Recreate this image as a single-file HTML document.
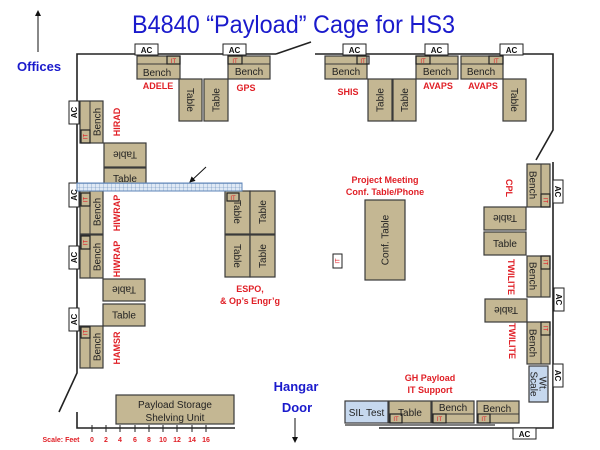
<!DOCTYPE html>
<html><head><meta charset="utf-8"><style>
html,body{margin:0;padding:0;background:#fff}
svg{display:block}
.f{fill:#c4b793;stroke:#3a3a3a;stroke-width:1.2}
.b{fill:#c6d8ee;stroke:#3a3a3a;stroke-width:1.2}
.it{fill:none;stroke:#222;stroke-width:1.2}
.ac{fill:#fff;stroke:#222;stroke-width:1}
text{font-family:"Liberation Sans",sans-serif}
.t{font-size:10px;fill:#222;text-anchor:middle}
.r{font-size:9px;fill:#e01f26;font-weight:bold;text-anchor:middle}
.i{font-size:6px;fill:#e01f26;text-anchor:middle}
.a{font-size:8px;fill:#111;font-weight:bold;text-anchor:middle}
.w{stroke:#222;stroke-width:1.6;fill:none}
</style></head><body>
<svg width="600" height="450" viewBox="0 0 600 450" xmlns="http://www.w3.org/2000/svg">
<defs>
<pattern id="g" width="4" height="4" patternUnits="userSpaceOnUse"><rect width="4" height="4" fill="#dfe9f5"/><path d="M4 0V4M0 4H4" stroke="#5f86b8" stroke-width="0.6"/></pattern>
<marker id="ah" markerWidth="6" markerHeight="6" refX="5" refY="3" orient="auto"><path d="M0,0L6,3L0,6z" fill="#111"/></marker>
</defs>
<!-- title -->
<text x="132" y="33" font-size="25" fill="#1a1acc" textLength="323" lengthAdjust="spacingAndGlyphs">B4840 “Payload” Cage for HS3</text>
<line x1="38" y1="52" x2="38" y2="11" stroke="#111" stroke-width="1" marker-end="url(#ah)"/>
<text x="17" y="71" font-size="13" font-weight="bold" fill="#1a1acc">Offices</text>
<!-- walls -->
<path class="w" d="M276 54H77V373L59 412"/>
<path class="w" d="M276 54L311 42"/>
<path class="w" d="M315 54H553V130L536 160"/>
<path class="w" d="M553 162V428H379"/>
<path d="M345 425H495" stroke="#555" stroke-width="1.6"/>
<path class="w" d="M77 412V428H235"/>
<!-- top ACs -->
<rect class="ac" x="135" y="44" width="23" height="11"/><text class="a" x="146.5" y="53">AC</text>
<rect class="ac" x="223" y="44" width="23" height="11"/><text class="a" x="234.5" y="53">AC</text>
<rect class="ac" x="343" y="44" width="23" height="11"/><text class="a" x="354.5" y="53">AC</text>
<rect class="ac" x="425" y="44" width="23" height="11"/><text class="a" x="436.5" y="53">AC</text>
<rect class="ac" x="500" y="44" width="23" height="11"/><text class="a" x="511.5" y="53">AC</text>
<!-- ADELE -->
<rect class="f" x="137" y="56" width="43" height="23"/><line x1="137" y1="64" x2="180" y2="64" stroke="#3a3a3a"/><rect class="it" x="167" y="56" width="13" height="8"/><text class="i" x="173.5" y="63">IT</text><text class="t" x="157" y="76">Bench</text>
<text class="r" x="158" y="89">ADELE</text>
<rect class="f" x="179" y="79" width="23" height="42"/><text class="t" transform="translate(190.5 100) rotate(90)" y="3.5">Table</text>
<rect class="f" x="204" y="79" width="24" height="42"/><text class="t" transform="translate(216 100) rotate(-90)" y="3.5">Table</text>
<!-- GPS -->
<rect class="f" x="228" y="56" width="42" height="23"/><line x1="228" y1="64" x2="270" y2="64" stroke="#3a3a3a"/><rect class="it" x="228" y="56" width="14" height="8"/><text class="i" x="235" y="63">IT</text><text class="t" x="249" y="75">Bench</text>
<text class="r" x="246" y="91">GPS</text>
<!-- SHIS -->
<rect class="f" x="325" y="56" width="42" height="23"/><line x1="325" y1="64" x2="367" y2="64" stroke="#3a3a3a"/><rect class="it" x="357" y="56" width="12" height="8"/><text class="i" x="363" y="63">IT</text><text class="t" x="346" y="75">Bench</text>
<text class="r" x="348" y="95">SHIS</text>
<rect class="f" x="368" y="79" width="24" height="42"/><text class="t" transform="translate(380 100) rotate(-90)" y="3.5">Table</text>
<rect class="f" x="393" y="79" width="23" height="42"/><text class="t" transform="translate(404.5 100) rotate(-90)" y="3.5">Table</text>
<!-- AVAPS -->
<rect class="f" x="416" y="56" width="42" height="23"/><line x1="416" y1="64" x2="458" y2="64" stroke="#3a3a3a"/><rect class="it" x="416" y="56" width="14" height="8"/><text class="i" x="423" y="63">IT</text><text class="t" x="437" y="75">Bench</text>
<text class="r" x="438" y="89">AVAPS</text>
<rect class="f" x="461" y="56" width="42" height="23"/><line x1="461" y1="64" x2="503" y2="64" stroke="#3a3a3a"/><rect class="it" x="489" y="56" width="14" height="8"/><text class="i" x="496" y="63">IT</text><text class="t" x="481" y="75">Bench</text>
<text class="r" x="483" y="89">AVAPS</text>
<rect class="f" x="503" y="79" width="23" height="42"/><text class="t" transform="translate(514.5 100) rotate(90)" y="3.5">Table</text>
<!-- left side -->
<rect class="ac" x="69" y="101" width="10" height="23"/><text class="a" transform="translate(74 112.5) rotate(-90)" y="3">AC</text>
<rect class="f" x="80" y="101" width="23" height="42"/><line x1="90" y1="101" x2="90" y2="143" stroke="#3a3a3a"/><rect class="it" x="81" y="130" width="9" height="13"/><text class="i" transform="translate(85.5 136.5) rotate(-90)" y="2">IT</text><text class="t" transform="translate(97 122) rotate(-90)" y="3.5">Bench</text>
<text class="r" transform="translate(117 122) rotate(-90)" y="3">HIRAD</text>
<rect class="f" x="104" y="143" width="42" height="24"/><text class="t" transform="translate(125 155) rotate(180)" y="3.5">Table</text>
<rect class="f" x="104" y="168" width="42" height="20"/><text class="t" x="125" y="182">Table</text>
<rect class="ac" x="69" y="183" width="10" height="24"/><text class="a" transform="translate(74 195) rotate(-90)" y="3">AC</text>
<rect class="f" x="80" y="191" width="23" height="43"/><line x1="90" y1="191" x2="90" y2="234" stroke="#3a3a3a"/><rect class="it" x="81" y="193" width="9" height="13"/><text class="i" transform="translate(85.5 199.5) rotate(-90)" y="2">IT</text><text class="t" transform="translate(97 212) rotate(-90)" y="3.5">Bench</text>
<text class="r" transform="translate(117 213) rotate(-90)" y="3">HIWRAP</text>
<rect class="ac" x="69" y="246" width="10" height="23"/><text class="a" transform="translate(74 257.5) rotate(-90)" y="3">AC</text>
<rect class="f" x="80" y="235" width="23" height="43"/><line x1="90" y1="235" x2="90" y2="278" stroke="#3a3a3a"/><rect class="it" x="81" y="236" width="9" height="13"/><text class="i" transform="translate(85.5 242.5) rotate(-90)" y="2">IT</text><text class="t" transform="translate(97 257) rotate(-90)" y="3.5">Bench</text>
<text class="r" transform="translate(117 259) rotate(-90)" y="3">HIWRAP</text>
<rect class="f" x="103" y="279" width="42" height="22"/><text class="t" transform="translate(124 290) rotate(180)" y="3.5">Table</text>
<rect class="f" x="103" y="304" width="42" height="22"/><text class="t" x="124" y="318.5">Table</text>
<rect class="ac" x="69" y="308" width="10" height="23"/><text class="a" transform="translate(74 319.5) rotate(-90)" y="3">AC</text>
<rect class="f" x="80" y="326" width="23" height="42"/><line x1="90" y1="326" x2="90" y2="368" stroke="#3a3a3a"/><rect class="it" x="81" y="327" width="9" height="11"/><text class="i" transform="translate(85.5 332.5) rotate(-90)" y="2">IT</text><text class="t" transform="translate(97 347) rotate(-90)" y="3.5">Bench</text>
<text class="r" transform="translate(117 348) rotate(-90)" y="3">HAMSR</text>
<!-- ESPO -->
<rect class="f" x="225" y="191" width="25" height="43"/><text class="t" transform="translate(237.5 212) rotate(90)" y="3.5">Table</text>
<rect class="f" x="250" y="191" width="25" height="43"/><text class="t" transform="translate(262.5 212) rotate(-90)" y="3.5">Table</text>
<rect class="f" x="225" y="235" width="25" height="42"/><text class="t" transform="translate(237.5 256) rotate(90)" y="3.5">Table</text>
<rect class="f" x="250" y="235" width="25" height="42"/><text class="t" transform="translate(262.5 256) rotate(-90)" y="3.5">Table</text>
<rect class="it" x="227" y="193" width="12" height="8" fill="#c4b793"/><text class="i" x="233" y="200">IT</text>
<text class="r" x="250" y="292">ESPO,</text>
<text class="r" x="250" y="304">&amp; Op’s Engr’g</text>
<!-- hatched bar + arrow -->
<rect x="77" y="183" width="165" height="8" fill="url(#g)" stroke="#5f86b8" stroke-width="1"/>
<line x1="206" y1="167" x2="190" y2="182" stroke="#111" stroke-width="1" marker-end="url(#ah)"/>
<!-- conf -->
<text class="r" x="385" y="183">Project Meeting</text>
<text class="r" x="385" y="195">Conf. Table/Phone</text>
<rect class="f" x="365" y="200" width="40" height="80"/><text class="t" transform="translate(385 240) rotate(-90)" y="3.5">Conf. Table</text>
<rect class="ac" x="333" y="254" width="9" height="14"/><text class="i" transform="translate(337.5 261) rotate(-90)" y="2">IT</text>
<!-- right side -->
<rect class="f" x="527" y="164" width="23" height="43"/><line x1="541" y1="164" x2="541" y2="207" stroke="#3a3a3a"/><rect class="it" x="541" y="194" width="9" height="13"/><text class="i" transform="translate(545.5 200.5) rotate(90)" y="2">IT</text><text class="t" transform="translate(533 185) rotate(90)" y="3.5">Bench</text>
<rect class="ac" x="553" y="180" width="10" height="23"/><text class="a" transform="translate(558 191.5) rotate(90)" y="3">AC</text>
<text class="r" transform="translate(509 188) rotate(90)" y="3">CPL</text>
<rect class="f" x="484" y="207" width="42" height="23"/><text class="t" transform="translate(505 218.5) rotate(180)" y="3.5">Table</text>
<rect class="f" x="484" y="232" width="42" height="23"/><text class="t" x="505" y="247">Table</text>
<rect class="f" x="527" y="256" width="23" height="41"/><line x1="541" y1="256" x2="541" y2="297" stroke="#3a3a3a"/><rect class="it" x="541" y="256" width="9" height="13"/><text class="i" transform="translate(545.5 262.5) rotate(90)" y="2">IT</text><text class="t" transform="translate(533 276) rotate(90)" y="3.5">Bench</text>
<text class="r" transform="translate(511 277) rotate(90)" y="3">TWILITE</text>
<rect class="ac" x="554" y="288" width="10" height="23"/><text class="a" transform="translate(559 299.5) rotate(90)" y="3">AC</text>
<rect class="f" x="485" y="299" width="42" height="23"/><text class="t" transform="translate(506 310.5) rotate(180)" y="3.5">Table</text>
<rect class="f" x="527" y="322" width="23" height="42"/><line x1="541" y1="322" x2="541" y2="364" stroke="#3a3a3a"/><rect class="it" x="541" y="322" width="9" height="13"/><text class="i" transform="translate(545.5 328.5) rotate(90)" y="2">IT</text><text class="t" transform="translate(533 343) rotate(90)" y="3.5">Bench</text>
<text class="r" transform="translate(512 341) rotate(90)" y="3">TWILITE</text>
<rect class="ac" x="553" y="364" width="10" height="23"/><text class="a" transform="translate(558 375.5) rotate(90)" y="3">AC</text>
<rect class="b" x="529" y="366" width="19" height="36"/><text class="t" font-size="9" transform="translate(538.5 384) rotate(90)"><tspan x="0" y="-1">Wt.</tspan><tspan x="0" y="8">Scale</tspan></text>
<!-- bottom -->
<text class="r" x="430" y="381">GH Payload</text>
<text class="r" x="430" y="393">IT Support</text>
<rect class="b" x="345" y="401" width="43" height="22"/><text class="t" x="366.5" y="416">SIL Test</text>
<rect class="f" x="389" y="401" width="42" height="22"/><rect class="it" x="390" y="414" width="12" height="9"/><text class="i" x="396" y="421">IT</text><text class="t" x="410" y="416">Table</text>
<rect class="f" x="432" y="401" width="42" height="22"/><line x1="432" y1="414" x2="474" y2="414" stroke="#3a3a3a"/><rect class="it" x="433" y="414" width="13" height="9"/><text class="i" x="439.5" y="421">IT</text><text class="t" x="453" y="411">Bench</text>
<rect class="f" x="477" y="401" width="42" height="22"/><line x1="477" y1="414" x2="519" y2="414" stroke="#3a3a3a"/><rect class="it" x="478" y="414" width="12" height="9"/><text class="i" x="484" y="421">IT</text><text class="t" x="497" y="412">Bench</text>
<rect class="ac" x="513" y="428" width="23" height="11"/><text class="a" x="524.5" y="437">AC</text>
<!-- hangar -->
<text x="296" y="391" font-size="13" font-weight="bold" fill="#1a1acc" text-anchor="middle">Hangar</text>
<text x="297" y="412" font-size="13" font-weight="bold" fill="#1a1acc" text-anchor="middle">Door</text>
<line x1="295" y1="418" x2="295" y2="442" stroke="#111" stroke-width="1" marker-end="url(#ah)"/>
<!-- storage -->
<rect class="f" x="116" y="395" width="118" height="29"/>
<text class="t" font-size="12" x="175" y="408">Payload Storage</text>
<text class="t" font-size="12" x="175" y="421">Shelving Unit</text>
<!-- scale -->
<g stroke="#222" stroke-width="1">
<line x1="92" y1="425" x2="92" y2="432"/><line x1="106" y1="425" x2="106" y2="432"/><line x1="120" y1="425" x2="120" y2="432"/><line x1="135" y1="425" x2="135" y2="432"/><line x1="149" y1="425" x2="149" y2="432"/><line x1="163" y1="425" x2="163" y2="432"/><line x1="177" y1="425" x2="177" y2="432"/><line x1="192" y1="425" x2="192" y2="432"/><line x1="206" y1="425" x2="206" y2="432"/>
</g>
<g font-size="7" fill="#e01f26" font-weight="bold" text-anchor="middle">
<text x="61" y="442">Scale: Feet</text>
<text x="92" y="442">0</text><text x="106" y="442">2</text><text x="120" y="442">4</text><text x="135" y="442">6</text><text x="149" y="442">8</text><text x="163" y="442">10</text><text x="177" y="442">12</text><text x="192" y="442">14</text><text x="206" y="442">16</text>
</g>
</svg>
</body></html>
